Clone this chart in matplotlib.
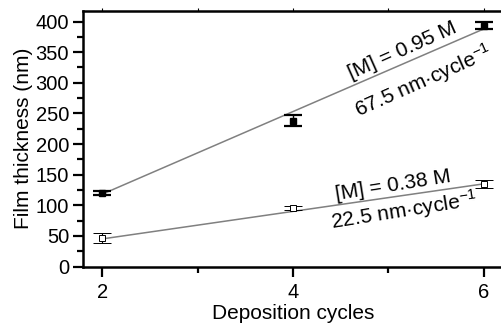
import numpy as np
import matplotlib.pyplot as plt
from matplotlib.ticker import MultipleLocator

plt.rcParams['font.family'] = ['Liberation Sans', 'DejaVu Sans']
plt.rcParams['mathtext.default'] = 'regular'

cycles = [2, 4, 6]

# 0.95 M precursor
thick_hi = [120, 238, 393]
err_hi = [4, 9, 5.5]
slope_hi, icpt_hi = 67.5, -17

# 0.38 M precursor
thick_lo = [47, 96, 135]
err_lo = [8, 3, 7]
slope_lo, icpt_lo = 22.5, 0

fig = plt.figure(figsize=(5.01, 3.24), dpi=100)
ax = fig.add_axes([83/501, 57.5/324, 420/501, 256/324])

xfit = np.array([2, 6])
ax.plot(xfit, slope_hi*xfit + icpt_hi, color='#808080', lw=1.1, zorder=1)
ax.plot(xfit, slope_lo*xfit + icpt_lo, color='#808080', lw=1.1, zorder=1)

ax.errorbar(cycles, thick_hi, yerr=err_hi, fmt='s', ms=4.5, mfc='black', mec='black',
            ecolor='black', elinewidth=1, capsize=6.5, capthick=1.6, zorder=3)
ax.errorbar(cycles, thick_lo, yerr=err_lo, fmt='s', ms=4.5, mfc='white', mec='black', mew=0.7,
            ecolor='black', elinewidth=0.8, capsize=6.5, capthick=1.2, zorder=3)

ax.set_xlim(1.8, 6.2)
ax.set_ylim(0, 418)
ax.xaxis.set_major_locator(MultipleLocator(2))
ax.xaxis.set_minor_locator(MultipleLocator(1))
ax.yaxis.set_major_locator(MultipleLocator(50))
ax.yaxis.set_minor_locator(MultipleLocator(25))

for s in ['left', 'bottom', 'top']:
    ax.spines[s].set_linewidth(1.8)
ax.spines['right'].set_visible(False)

ax.tick_params(axis='both', which='major', direction='out', length=7, width=1.6,
               labelsize=14.5, pad=3)
ax.tick_params(axis='both', which='minor', direction='out', length=4, width=1.6)
ax.tick_params(axis='x', which='major', pad=5)
# faint ticks along the top edge
ax.tick_params(axis='x', which='both', top=True)
for t in ax.xaxis.get_major_ticks() + ax.xaxis.get_minor_ticks():
    t.tick2line.set_markersize(2)
    t.tick2line.set_markeredgewidth(0.8)

ax.set_xlabel('Deposition cycles', fontsize=15, labelpad=1)
ax.set_ylabel('Film thickness (nm)', fontsize=15, labelpad=2)

sup = '$^{-1}$'
ax.text(5.15, 353, '[M] = 0.95 M', fontsize=15, rotation=24, ha='center', va='center')
ax.text(5.37, 302, '67.5 nm·cycle' + sup, fontsize=15, rotation=24,
        ha='center', va='center')
ax.text(5.05, 132, '[M] = 0.38 M', fontsize=15, rotation=9, ha='center', va='center')
ax.text(5.16, 91, '22.5 nm·cycle' + sup, fontsize=15, rotation=9,
        ha='center', va='center')

fig.savefig('out.png', dpi=100)
